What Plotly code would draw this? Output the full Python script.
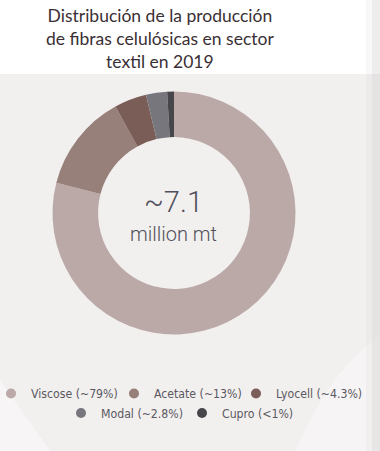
import plotly.graph_objects as go

# ---- data ----
fibers = ["Viscose", "Acetate", "Lyocell", "Modal", "Cupro"]
shares = [79, 13, 4.3, 2.8, 0.9]
share_labels = ["~79%", "~13%", "~4.3%", "~2.8%", "<1%"]
colors = ["#bba9a7", "#977f7a", "#7b5d58", "#77767c", "#47474b"]
total_label = "~7.1"
unit_label = "million mt"
title_lines = ["Distribución de la producción", "de fibras celulósicas en sector", "textil en 2019"]

W, H = 380, 451
BG = "#f2efef"

fig = go.Figure()

# donut
cx, cy, r = 174, 213, 121.5
fig.add_trace(go.Pie(
    labels=fibers, values=shares, sort=False, direction="clockwise", rotation=0,
    hole=0.625, textinfo="none", hoverinfo="label+percent",
    marker=dict(colors=colors, line=dict(width=0)),
    showlegend=False,
    domain=dict(x=[(cx - r) / W, (cx + r) / W], y=[(H - cy - r) / H, (H - cy + r) / H]),
))

# legend entries (circle markers), one legend each for exact placement
legend_pos = [(31, 393.5), (154, 393.5), (276, 393.5), (101, 413), (222, 413)]  # text start x, center y (px)
legend_names = ["legend", "legend2", "legend3", "legend4", "legend5"]
for i, f in enumerate(fibers):
    fig.add_trace(go.Scatter(
        x=[None], y=[None], mode="markers", name=f"{f} ({share_labels[i]})",
        marker=dict(color=colors[i], size=10, symbol="circle"),
        legend=legend_names[i], showlegend=True,
    ))

legend_font = dict(family="DejaVu Sans Condensed, Liberation Sans, sans-serif", size=12.2, color="#5a5961")
layout_legends = {}
for i, ln in enumerate(legend_names):
    tx, ty = legend_pos[i]
    layout_legends[ln] = dict(
        x=(tx - 40) / W, y=(H - ty) / H, xanchor="left", yanchor="middle",
        bgcolor="rgba(0,0,0,0)", borderwidth=0, font=legend_font,
        orientation="h", tracegroupgap=0, itemwidth=30,
    )

fig.update_layout(
    width=W, height=H, margin=dict(l=0, r=0, t=0, b=0, autoexpand=False),
    paper_bgcolor=BG, plot_bgcolor="rgba(0,0,0,0)",
    xaxis=dict(visible=False), yaxis=dict(visible=False),
    **layout_legends,
)

# background: white title band, subtle right shading, faint light shapes
shapes = [
    dict(type="rect", xref="paper", yref="paper", x0=0, x1=1, y0=(H - 74) / H, y1=1,
         fillcolor="#ffffff", line=dict(width=0), layer="below"),
    dict(type="path", xref="paper", yref="paper",
         path=f"M 0 0 L 0 {(H-380)/H} L {50/W} 0 Z",
         fillcolor="rgba(255,255,255,0.4)", line=dict(width=0), layer="below"),
    dict(type="path", xref="paper", yref="paper",
         path=f"M {295/W} 0 Q {330/W} {(H-370)/H} {1} {(H-335)/H} L 1 0 Z",
         fillcolor="rgba(255,255,255,0.3)", line=dict(width=0), layer="below"),
    dict(type="rect", xref="paper", yref="paper", x0=366 / W, x1=372 / W, y0=0, y1=1,
         fillcolor="rgba(200,195,195,0.12)", line=dict(width=0), layer="below"),
    dict(type="rect", xref="paper", yref="paper", x0=372 / W, x1=1, y0=0, y1=1,
         fillcolor="rgba(200,195,195,0.3)", line=dict(width=0), layer="below"),
]
fig.update_layout(shapes=shapes)

annotations = [
    dict(text="<br>".join(title_lines), x=160 / W, y=1 - 3 / H, xref="paper", yref="paper",
         xanchor="center", yanchor="top", showarrow=False, align="center",
         font=dict(family="Lato, Open Sans, sans-serif", size=17.5, color="#3a2f35")),
    dict(text=total_label, x=173 / W, y=(H - 202) / H, xref="paper", yref="paper",
         xanchor="center", yanchor="middle", showarrow=False,
         font=dict(family="Roboto, sans-serif", size=29, color="#50505a", weight=300)),
    dict(text=unit_label, x=173 / W, y=(H - 234) / H, xref="paper", yref="paper",
         xanchor="center", yanchor="middle", showarrow=False,
         font=dict(family="Roboto, sans-serif", size=20, color="#50505a", weight=300)),
]
fig.update_layout(annotations=annotations)

fig.write_html("out.html")
